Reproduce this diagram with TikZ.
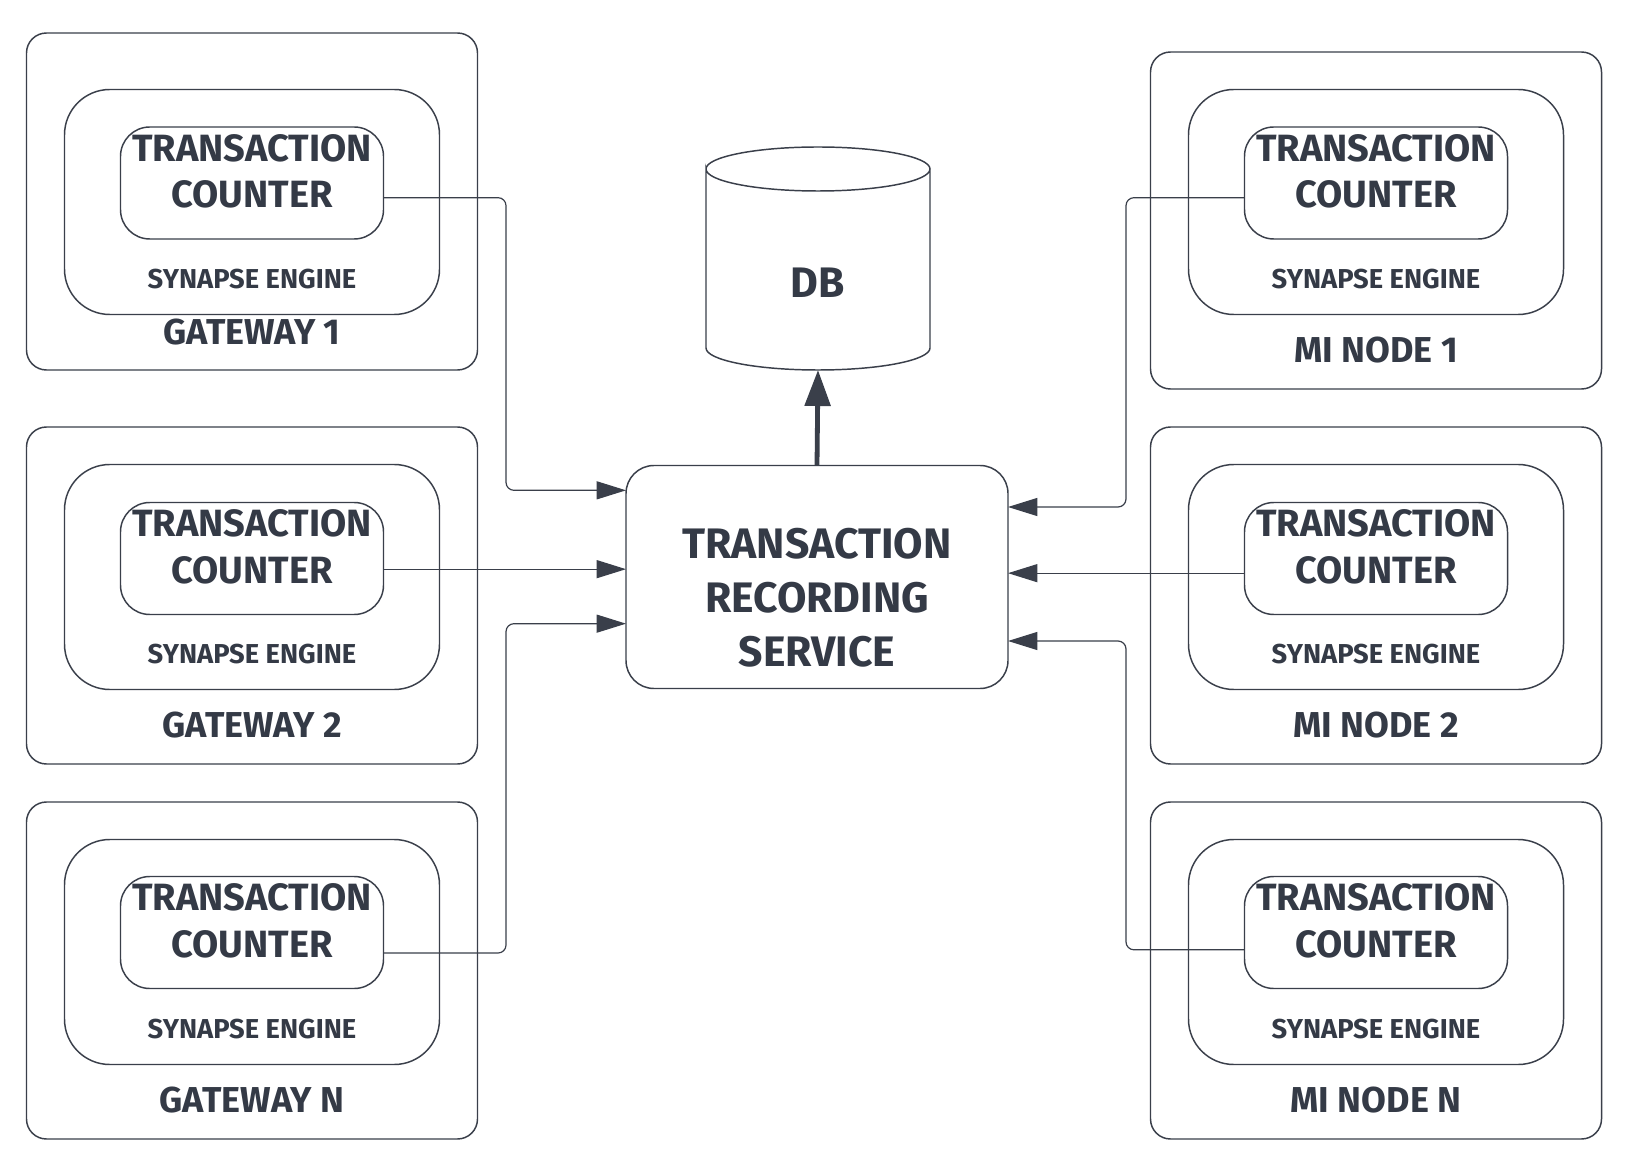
\documentclass[tikz,border=0pt]{standalone}
\usepackage{fontspec}
\setmainfont{Fira Sans}
\usetikzlibrary{arrows.meta}
\definecolor{ink}{HTML}{3A3F4A}
\definecolor{txt}{HTML}{343A46}

\begin{document}
\begin{tikzpicture}[x=0.75pt,y=0.75pt,yscale=-1,xscale=1,
  outerbox/.style={draw=ink,line width=1.1pt,rounded corners=15pt,minimum width=338.25pt,minimum height=252.75pt,inner sep=0pt,outer sep=0pt},
  enginebox/.style={draw=ink,line width=1.1pt,rounded corners=34pt,minimum width=281.25pt,minimum height=168.75pt,inner sep=0pt,outer sep=0pt},
  counterbox/.style={draw=ink,line width=1.1pt,rounded corners=22pt,minimum width=197.25pt,minimum height=84pt,inner sep=0pt,outer sep=0pt},
  servicebox/.style={draw=ink,line width=1.1pt,rounded corners=21pt,minimum width=286.5pt,minimum height=167.25pt,inner sep=0pt,outer sep=0pt},
  dbspot/.style={minimum width=168pt,minimum height=167.25pt,inner sep=0pt,outer sep=0pt},
  cnttext/.style={text=txt,align=center,inner sep=0pt,font=\fontsize{28.5}{35}\selectfont\bfseries},
  engtext/.style={text=txt,inner sep=0pt,font=\fontsize{20.5}{24}\selectfont\bfseries},
  hosttext/.style={text=txt,inner sep=0pt,font=\fontsize{27}{32}\selectfont\bfseries},
  bigtext/.style={text=txt,align=center,inner sep=0pt,font=\fontsize{32}{40.5}\selectfont\bfseries},
  conn/.style={draw=ink,line width=0.9pt,rounded corners=6pt,-{Triangle[length=22pt,width=13.5pt]}}
]
\useasboundingbox (0,0) rectangle (1635,1176);
\fill[white] (0,0) rectangle (1635,1176);

%Shape: Rounded Rect -- gateway 1
\draw (252,201.5) node (gw1) [outerbox] {};
\draw (252,202) node (eng1) [enginebox] {};
\draw (252,183) node (cnt1) [counterbox] {};
% Text Node
\draw (252,171.5) node (cnt1txt) [cnttext] {TRANSACTION\\COUNTER};
\draw (252,279) node (eng1txt) [engtext] {SYNAPSE ENGINE};
\draw (252,332) node (gw1txt) [hosttext] {GATEWAY 1};

%Shape: Rounded Rect -- gateway 2
\draw (252,595.5) node (gw2) [outerbox] {};
\draw (252,577) node (eng2) [enginebox] {};
\draw (252,558.5) node (cnt2) [counterbox] {};
% Text Node
\draw (252,546.5) node (cnt2txt) [cnttext] {TRANSACTION\\COUNTER};
\draw (252,654) node (eng2txt) [engtext] {SYNAPSE ENGINE};
\draw (252,725) node (gw2txt) [hosttext] {GATEWAY 2};

%Shape: Rounded Rect -- gateway n
\draw (252,970.5) node (gwn) [outerbox] {};
\draw (252,952) node (engn) [enginebox] {};
\draw (252,932.5) node (cntn) [counterbox] {};
% Text Node
\draw (252,920.5) node (cntntxt) [cnttext] {TRANSACTION\\COUNTER};
\draw (252,1029) node (engntxt) [engtext] {SYNAPSE ENGINE};
\draw (252,1100) node (gwntxt) [hosttext] {GATEWAY N};

%Shape: Rounded Rect -- mi node 1
\draw (1376,220.5) node (mi1) [outerbox] {};
\draw (1376,202) node (eng4) [enginebox] {};
\draw (1376,183) node (cnt4) [counterbox] {};
% Text Node
\draw (1376,171.5) node (cnt4txt) [cnttext] {TRANSACTION\\COUNTER};
\draw (1376,279) node (eng4txt) [engtext] {SYNAPSE ENGINE};
\draw (1376,350) node (mi1txt) [hosttext] {MI NODE 1};

%Shape: Rounded Rect -- mi node 2
\draw (1376,595.5) node (mi2) [outerbox] {};
\draw (1376,577) node (eng5) [enginebox] {};
\draw (1376,558.5) node (cnt5) [counterbox] {};
% Text Node
\draw (1376,546.5) node (cnt5txt) [cnttext] {TRANSACTION\\COUNTER};
\draw (1376,654) node (eng5txt) [engtext] {SYNAPSE ENGINE};
\draw (1376,725) node (mi2txt) [hosttext] {MI NODE 2};

%Shape: Rounded Rect -- mi node n
\draw (1376,970.5) node (min) [outerbox] {};
\draw (1376,952) node (eng6) [enginebox] {};
\draw (1376,932.5) node (cnt6) [counterbox] {};
% Text Node
\draw (1376,920.5) node (cnt6txt) [cnttext] {TRANSACTION\\COUNTER};
\draw (1376,1029) node (eng6txt) [engtext] {SYNAPSE ENGINE};
\draw (1376,1100) node (mintxt) [hosttext] {MI NODE N};

%Shape: Rounded Rect -- recording service
\draw (817,577) node (trs) [servicebox] {};
% Text Node
\draw (817,598) node (trstxt) [bigtext] {TRANSACTION\\RECORDING\\SERVICE};

%Shape: Can -- database
\draw (818,258.5) node (db) [dbspot] {};
\draw [draw=ink,line width=1.1pt] (706,169) .. controls (706,156.85) and (756.1,147) .. (818,147) .. controls (879.9,147) and (930,156.85) .. (930,169) .. controls (930,181.15) and (879.9,191) .. (818,191) .. controls (756.1,191) and (706,181.15) .. (706,169) -- (706,348) .. controls (706,360.15) and (756.1,370) .. (818,370) .. controls (879.9,370) and (930,360.15) .. (930,348) -- (930,169) ;
% Text Node
\draw (818,283) node (dbtxt) [bigtext] {DB};

%Straight Lines -- service to db
\draw [draw=ink,line width=3.6pt,-{Triangle[length=27pt,width=19pt]}] (trs.north) -- (db.south);

%Straight Lines -- gateways to service
\draw [conn] ([yshift=11pt]cnt1.east) -- ++(122.5,0) |- ([yshift=-65pt]trs.west);
\draw [conn] ([yshift=8pt]cnt2.east) -- ([yshift=8pt]cnt2.east -| trs.west);
\draw [conn] ([yshift=15.4pt]cntn.east) -- ++(122.5,0) |- ([yshift=35pt]trs.west);

%Straight Lines -- mi nodes to service
\draw [conn] ([yshift=11pt]cnt4.west) -- ++(-118.5,0) |- ([yshift=-52.5pt]trs.east);
\draw [conn] ([yshift=11pt]cnt5.west) -- ([yshift=11pt]cnt5.west -| trs.east);
\draw [conn] ([yshift=13pt]cnt6.west) -- ++(-118.5,0) |- ([yshift=48pt]trs.east);

\end{tikzpicture}
\end{document}
